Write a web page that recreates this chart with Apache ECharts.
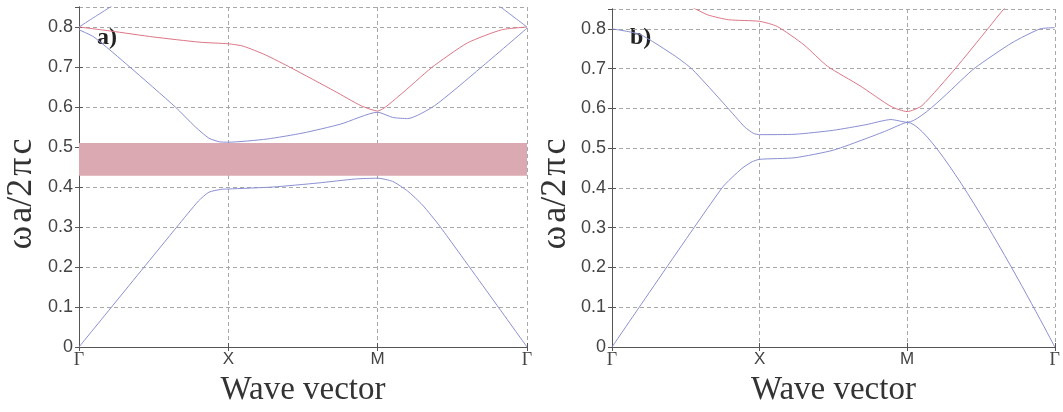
<!DOCTYPE html>
<html><head><meta charset="utf-8">
<script src="https://cdn.jsdelivr.net/npm/echarts/dist/echarts.min.js"></script>
<style>html,body{margin:0;padding:0;background:#fff}#c{width:1063px;height:412px}</style>
</head><body><div id="c"></div>
<script>
// high-symmetry points along the x axis
const kPositions = [0, 1, 2, 3];
const kLabels = ['Γ', 'X', 'M', 'Γ'];
const yTickValues = [0, 0.1, 0.2, 0.3, 0.4, 0.5, 0.6, 0.7, 0.8];
const yMax = 0.85;
const yTitle = 'ω\u200aa/2\u200aπ\u200ac';
const xTitle = 'Wave vector';

// panel a) bands  [k, ωa/2πc]
const aBand1 = [[0,0],[0.655,0.3],[0.8,0.365],[0.87,0.387],[0.95,0.394],[1.0,0.395],[1.3,0.4],[1.6,0.41],[1.85,0.42],[2.0,0.422],[2.1,0.414],[2.2,0.39],[2.3,0.355],[2.42,0.3],[3,0]];
const aBand2 = [[0,0.793],[0.1,0.775],[0.34,0.7],[0.645,0.6],[0.78,0.55],[0.87,0.522],[0.94,0.513],[1.0,0.512],[1.26,0.52],[1.5,0.535],[1.75,0.557],[2.0,0.587],[2.1,0.574],[2.2,0.571],[2.38,0.603],[2.69,0.698],[3,0.797]];
const aBand3 = [[0,0.8],[0.21,0.79],[0.5,0.775],[0.81,0.762],[1.0,0.758],[1.1,0.752],[1.25,0.73],[1.42,0.698],[1.71,0.64],[1.89,0.603],[2.0,0.59],[2.15,0.63],[2.36,0.698],[2.6,0.76],[2.83,0.793],[3,0.8]];
const aBand4 = [[0,0.8],[0.1,0.824],[0.21,0.85],[0.23,0.855]];
const aBand5 = [[2.8,0.855],[2.83,0.848],[3,0.8]];
const aGap = [0.428, 0.51];

// panel b) bands
const bBand1 = [[0,0],[0.745,0.4],[0.88,0.449],[0.95,0.466],[1.0,0.472],[1.24,0.476],[1.5,0.495],[1.72,0.524],[1.86,0.544],[2.0,0.565],[3,0]];
const bBand2 = [[0,0.8],[0.19,0.786],[0.43,0.731],[0.545,0.698],[0.77,0.607],[0.9,0.553],[0.96,0.537],[1.0,0.534],[1.24,0.535],[1.5,0.545],[1.72,0.559],[1.89,0.572],[2.0,0.565],[2.46,0.702],[2.71,0.765],[2.9,0.8],[3,0.803]];
const bBand3 = [[0.5,0.86],[0.555,0.852],[0.65,0.835],[0.79,0.823],[1.0,0.819],[1.12,0.806],[1.3,0.76],[1.46,0.706],[1.68,0.657],[1.89,0.605],[2.0,0.592],[2.1,0.607],[2.33,0.702],[2.55,0.802],[2.66,0.852],[2.7,0.86]];

const BLUE = '#8a8fd2', RED = '#dc7686', FRAME = '#555', GRIDC = '#a8a8a8';

const grids = [
  {left: 79, top: 7, width: 448, height: 342},
  {left: 612, top: 9, width: 449, height: 341}
];

function xAxes(i) {
  const common = {gridIndex: i, type: 'value', min: 0, max: 3, interval: 1};
  return [
    Object.assign({}, common, {
      position: 'bottom',
      axisLine: {show: true, lineStyle: {color: FRAME, width: 1}},
      axisTick: {show: true, inside: true, length: 4, lineStyle: {color: FRAME}},
      axisLabel: {
        margin: 4, fontSize: 17, color: '#444', fontFamily: 'Liberation Sans',
        formatter: v => { const idx = kPositions.indexOf(Math.round(v)); const t = kLabels[idx]; return t === 'Γ' ? '{g|Γ}' : t; },
        rich: {g: {fontFamily: 'Liberation Serif', fontSize: 18, color: '#444'}}
      },
      splitLine: {show: true, lineStyle: {color: GRIDC, type: [4, 3], width: 1}},
      name: xTitle, nameLocation: 'middle', nameGap: 27,
      nameTextStyle: {fontFamily: 'Liberation Serif', fontSize: 33, color: '#333'}
    }),
    Object.assign({}, common, {
      position: 'top',
      axisLine: {show: true, lineStyle: {color: FRAME, width: 1}},
      axisTick: {show: true, inside: true, length: 4, lineStyle: {color: FRAME}},
      axisLabel: {show: false}, splitLine: {show: false}
    })
  ];
}
function yAxes(i) {
  const common = {gridIndex: i, type: 'value', min: 0, max: yMax, interval: 0.1};
  return [
    Object.assign({}, common, {
      position: 'left',
      axisLine: {show: true, lineStyle: {color: FRAME, width: 1}},
      axisTick: {show: true, inside: true, length: 4, lineStyle: {color: FRAME}},
      axisLabel: {
        margin: 6, fontSize: 18, color: '#444', fontFamily: 'Liberation Sans', showMaxLabel: false,
        formatter: v => { const m = yTickValues.find(t => Math.abs(t - v) < 1e-6); return m === undefined ? '' : (m === 0 ? '0' : m.toFixed(1)); }
      },
      splitLine: {show: true, lineStyle: {color: GRIDC, type: [4, 3], width: 1}}
    }),
    Object.assign({}, common, {
      position: 'right',
      axisLine: {show: true, lineStyle: {color: FRAME, width: 1}},
      axisTick: {show: true, inside: true, length: 4, lineStyle: {color: FRAME}},
      axisLabel: {show: false}, splitLine: {show: false}
    })
  ];
}

function line(data, color, xi, yi, extra) {
  return Object.assign({
    type: 'line', data: data, xAxisIndex: xi, yAxisIndex: yi,
    showSymbol: false, symbol: 'none', smooth: 0.2, clip: true,
    lineStyle: {color: color, width: 1}, z: 3, silent: true
  }, extra || {});
}

function yTitleText(x, y) {
  return {type: 'text', x: x, y: y, rotation: Math.PI / 2,
    style: {text: yTitle, font: '36px "Liberation Serif"', fill: '#333', align: 'center', verticalAlign: 'middle'}};
}

const option = {
  animation: false,
  backgroundColor: '#fff',
  grid: grids,
  xAxis: [...xAxes(0), ...xAxes(1)],
  yAxis: [...yAxes(0), ...yAxes(1)],
  graphic: [
    {type: 'text', left: 97, top: 26, style: {text: 'a)', font: 'bold 24px "Liberation Serif"', fill: '#222'}},
    {type: 'text', left: 630, top: 26, style: {text: 'b)', font: 'bold 24px "Liberation Serif"', fill: '#222'}},
    yTitleText(22, 194),
    yTitleText(556, 194)
  ],
  series: [
    line([], BLUE, 0, 0, {
      markArea: {silent: true, itemStyle: {color: '#dba9b1', opacity: 1},
        data: [[{yAxis: aGap[0], xAxis: kPositions[0]}, {yAxis: aGap[1], xAxis: kPositions[3]}]]}
    }),
    line(aBand1, BLUE, 0, 0),
    line(aBand2, BLUE, 0, 0),
    line(aBand3, RED, 0, 0),
    line(aBand4, BLUE, 0, 0),
    line(aBand5, BLUE, 0, 0),
    line(bBand1, BLUE, 2, 2),
    line(bBand2, BLUE, 2, 2),
    line(bBand3, RED, 2, 2)
  ]
};
const chart = echarts.init(document.getElementById('c'), null, {renderer: 'canvas'});
chart.setOption(option);
</script>
</body></html>
